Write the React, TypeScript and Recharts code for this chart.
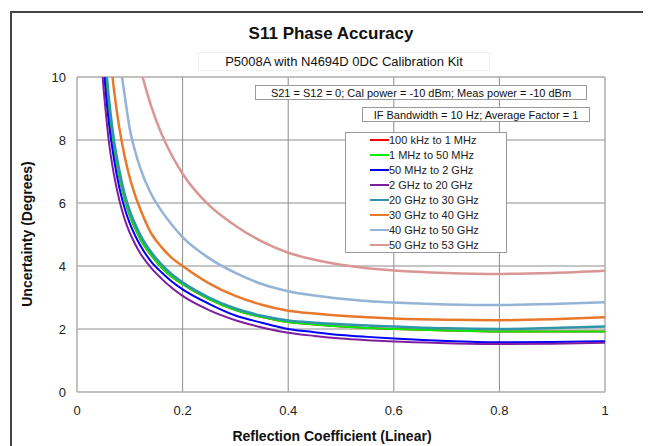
import React from "react";
import { LineChart, Line, XAxis, YAxis, CartesianGrid, ReferenceLine } from "recharts";

const reflection = [0.04, 0.045, 0.05, 0.055, 0.06, 0.07, 0.08, 0.09, 0.1, 0.11, 0.12, 0.14, 0.16, 0.18, 0.2, 0.25, 0.3, 0.35, 0.4, 0.45, 0.5, 0.55, 0.6, 0.7, 0.8, 0.9, 1.0];

const s100kTo1M = [13.6, 12.2, 11.0, 10.0, 9.1, 7.8, 6.85, 6.15, 5.6, 5.2, 4.85, 4.35, 3.95, 3.65, 3.42, 2.95, 2.6, 2.38, 2.22, 2.14, 2.08, 2.035, 2.0, 1.95, 1.92, 1.92, 1.92];
const s1MTo50M = [13.6, 12.2, 11.0, 10.0, 9.1, 7.8, 6.85, 6.15, 5.6, 5.2, 4.85, 4.35, 3.95, 3.65, 3.42, 2.95, 2.6, 2.38, 2.22, 2.14, 2.08, 2.035, 2.0, 1.95, 1.92, 1.92, 1.92];
const s50MTo2G = [12.8, 11.5, 10.4, 9.4, 8.6, 7.4, 6.5, 5.85, 5.35, 4.97, 4.65, 4.15, 3.8, 3.5, 3.26, 2.8, 2.43, 2.2, 2.0, 1.9, 1.81, 1.75, 1.7, 1.62, 1.58, 1.59, 1.61];
const s2GTo20G = [12.0, 10.8, 9.7, 8.8, 8.0, 6.9, 6.1, 5.5, 5.05, 4.7, 4.4, 3.95, 3.6, 3.3, 3.05, 2.6, 2.28, 2.05, 1.88, 1.78, 1.7, 1.645, 1.6, 1.55, 1.52, 1.53, 1.56];
const s20GTo30G = [14.0, 12.6, 11.4, 10.3, 9.4, 8.0, 7.05, 6.3, 5.75, 5.33, 4.98, 4.45, 4.05, 3.73, 3.48, 3.0, 2.65, 2.42, 2.27, 2.2, 2.15, 2.11, 2.08, 2.02, 2.0, 2.03, 2.08];
const s30GTo40G = [16.5, 14.8, 13.4, 12.2, 11.2, 9.6, 8.4, 7.5, 6.8, 6.25, 5.8, 5.05, 4.6, 4.25, 4.0, 3.45, 3.05, 2.77, 2.58, 2.49, 2.42, 2.37, 2.33, 2.29, 2.28, 2.31, 2.37];
const s40GTo50G = [21, 18.8, 17, 15.6, 14.4, 12.4, 10.7, 9.45, 8.35, 7.65, 7.1, 6.3, 5.75, 5.3, 4.92, 4.25, 3.78, 3.43, 3.2, 3.06, 2.96, 2.89, 2.84, 2.78, 2.76, 2.79, 2.85];
const s50GTo53G = [27, 24.5, 22, 20.3, 18.8, 16.4, 14.6, 13.2, 12.1, 11.1, 10.3, 9.1, 8.2, 7.5, 6.93, 5.93, 5.28, 4.78, 4.42, 4.2, 4.04, 3.93, 3.86, 3.78, 3.75, 3.78, 3.85];

const xTicks = [0, 0.2, 0.4, 0.6, 0.8, 1];
const yTicks = [0, 2, 4, 6, 8, 10];

const series = [
  { key: "a", name: "100 kHz to 1 MHz", values: s100kTo1M, color: "#ff0000", width: 2 },
  { key: "b", name: "1 MHz to 50 MHz", values: s1MTo50M, color: "#00ee00", width: 2 },
  { key: "c", name: "50 MHz to 2 GHz", values: s50MTo2G, color: "#0000ff", width: 2 },
  { key: "d", name: "2 GHz to 20 GHz", values: s2GTo20G, color: "#7f1f9f", width: 2 },
  { key: "e", name: "20 GHz to 30 GHz", values: s20GTo30G, color: "#2e95aa", width: 2.5 },
  { key: "f", name: "30 GHz to 40 GHz", values: s30GTo40G, color: "#e8792c", width: 2.5 },
  { key: "g", name: "40 GHz to 50 GHz", values: s40GTo50G, color: "#95b3d7", width: 2.5 },
  { key: "h", name: "50 GHz to 53 GHz", values: s50GTo53G, color: "#d99694", width: 2.5 },
];

// draw order: red first so it's hidden under green, etc.
const drawOrder = ["a", "b", "e", "c", "d", "f", "g", "h"];

const data = reflection.map((x, i) => {
  const row: Record<string, number> = { x };
  series.forEach((s) => {
    row[s.key] = s.values[i];
  });
  return row;
});

const FONT = '"Liberation Sans", Arial, sans-serif';

export default function App() {
  return (
    <div style={{ position: "relative", width: 643, height: 438, fontFamily: FONT, background: "#fff", overflow: "hidden" }}>
      <div style={{ position: "absolute", left: 2, top: 3, width: 700, height: 500, borderLeft: "2px solid #444", borderTop: "2px solid #444" }} />
      <LineChart width={643} height={438} data={data} margin={{ top: 69, right: 46, bottom: 24, left: 0 }}>
        <CartesianGrid stroke="#8c8c8c" strokeWidth={1} />
        <XAxis
          dataKey="x"
          type="number"
          domain={[0, 1]}
          ticks={xTicks}
          allowDataOverflow
          height={30}
          stroke="#bdbdbd"
          tickLine={false}
          tickSize={6}
          tickMargin={8}
          tick={{ fill: "#222", fontSize: 13, fontFamily: FONT }}
        />
        <YAxis
          type="number"
          domain={[0, 10]}
          ticks={yTicks}
          allowDataOverflow
          width={69}
          stroke="#bdbdbd"
          tickLine={false}
          tickSize={6}
          tickMargin={5}
          tick={{ fill: "#222", fontSize: 13, fontFamily: FONT }}
        />
        <ReferenceLine y={10} stroke="#bdbdbd" />
        <ReferenceLine x={1} stroke="#bdbdbd" />
        {drawOrder.map((k) => {
          const s = series.find((q) => q.key === k)!;
          return (
            <Line
              key={s.key}
              dataKey={s.key}
              name={s.name}
              type="monotone"
              stroke={s.color}
              strokeWidth={s.width}
              dot={false}
              activeDot={false}
              isAnimationActive={false}
            />
          );
        })}
      </LineChart>

      <div style={{ position: "absolute", left: 0, width: 646, top: 16, textAlign: "center", fontSize: 17, fontWeight: "bold", color: "#111" }}>
        S11 Phase Accuracy
      </div>
      <div style={{ position: "absolute", left: 190, top: 44, width: 290, height: 17, border: "1px solid #f0f0f0", textAlign: "center", fontSize: 13, lineHeight: "17px", color: "#111" }}>
        P5008A with N4694D 0DC Calibration Kit
      </div>

      <div style={{ position: "absolute", left: 247, top: 77, width: 332, height: 15, border: "1px solid #9a9a9a", background: "#fff", textAlign: "center", fontSize: 11, lineHeight: "15px", color: "#111", boxSizing: "border-box" }}>
        S21 = S12 = 0; Cal power = -10 dBm; Meas power = -10 dBm
      </div>
      <div style={{ position: "absolute", left: 354, top: 99, width: 228, height: 15, border: "1px solid #9a9a9a", background: "#fff", textAlign: "center", fontSize: 11, lineHeight: "15px", color: "#111", boxSizing: "border-box" }}>
        IF Bandwidth = 10 Hz; Average Factor = 1
      </div>

      <div style={{ position: "absolute", left: 337, top: 124, width: 162, height: 121, border: "1px solid #9a9a9a", background: "#fff", boxSizing: "border-box" }}>
        {series.map((s, i) => (
          <div key={s.key} style={{ position: "absolute", left: 0, top: i * 15, height: 15, width: 160 }}>
            <div style={{ position: "absolute", left: 24, top: 6, width: 19, height: 2, background: s.color }} />
            <div style={{ position: "absolute", left: 43, top: 0, fontSize: 11, lineHeight: "15px", color: "#222", whiteSpace: "nowrap" }}>{s.name}</div>
          </div>
        ))}
      </div>

      <div style={{ position: "absolute", left: 19, top: 226, width: 0, height: 0 }}>
        <div style={{ position: "absolute", left: -120, top: -10, width: 240, height: 20, textAlign: "center", transform: "rotate(-90deg)", fontSize: 14, fontWeight: "bold", lineHeight: "20px", color: "#111" }}>
          Uncertainty (Degrees)
        </div>
      </div>
      <div style={{ position: "absolute", left: 174, top: 418, width: 300, textAlign: "center", fontSize: 14, fontWeight: "bold", lineHeight: "20px", color: "#111" }}>
        Reflection Coefficient (Linear)
      </div>
    </div>
  );
}
